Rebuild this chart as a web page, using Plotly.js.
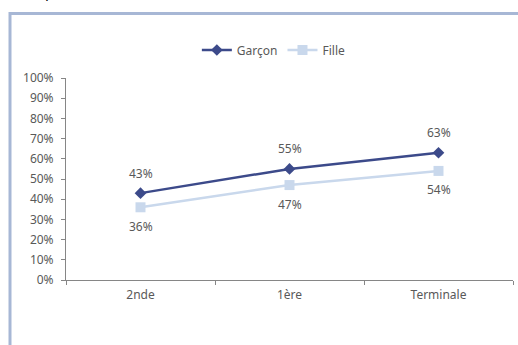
<!DOCTYPE html>
<html>
<head>
<meta charset="utf-8">
<script src="https://cdn.plot.ly/plotly-3.0.1.min.js"></script>
<style>html,body{margin:0;padding:0;background:#fff;}#chart{width:518px;height:345px;}</style>
</head>
<body>
<div id="chart"></div>
<script>
const categories = ["2nde", "1ère", "Terminale"];
const garconValues = [0.43, 0.55, 0.63];
const filleValues = [0.36, 0.47, 0.54];
const yTickValues = [0, 0.1, 0.2, 0.3, 0.4, 0.5, 0.6, 0.7, 0.8, 0.9, 1.0];
const yTickLabels = ["0%", "10%", "20%", "30%", "40%", "50%", "60%", "70%", "80%", "90%", "100%"];

const W = 518, H = 345;
const M = {l: 66, r: 5, t: 78, b: 65};
const pw = W - M.l - M.r, ph = H - M.t - M.b;
const px = x => (x - M.l) / pw;
const py = y => (H - M.b - y) / ph;

const fontFam = "'Noto Sans', 'Open Sans', sans-serif";
const txtCol = "#595959";
const cG = "#3C4A8A";
const cF = "#C9D8EC";
const fs = 12;

const traces = [
  {x: categories, y: garconValues, name: "Garçon", type: "scatter", mode: "lines+markers",
   line: {color: cG, width: 2.5}, marker: {symbol: "diamond", size: 9, color: cG}},
  {x: categories, y: filleValues, name: "Fille", type: "scatter", mode: "lines+markers",
   line: {color: cF, width: 2.5}, marker: {symbol: "square", size: 10, color: cF}}
];

const annotations = [];
categories.forEach((c, i) => {
  annotations.push({x: c, y: garconValues[i], text: Math.round(garconValues[i]*100) + "%",
    showarrow: false, yshift: 20, font: {family: fontFam, size: fs, color: txtCol}});
  annotations.push({x: c, y: filleValues[i], text: Math.round(filleValues[i]*100) + "%",
    showarrow: false, yshift: -19, font: {family: fontFam, size: fs, color: txtCol}});
});
annotations.push({xref: "paper", yref: "paper", x: px(43), y: py(3), xanchor: "left", yanchor: "bottom",
  text: "p", showarrow: false, font: {family: fontFam, size: 15, color: "#000"}});

const frameCol = "#A7B7D5";
const shapes = [
  {type: "line", xref: "paper", yref: "paper", x0: px(10), x1: px(520), y0: py(13.5), y1: py(13.5),
   line: {color: frameCol, width: 3}},
  {type: "line", xref: "paper", yref: "paper", x0: px(10), x1: px(10), y0: py(12), y1: py(350),
   line: {color: frameCol, width: 3}}
];

const layout = {
  width: W, height: H,
  margin: M,
  paper_bgcolor: "#fff", plot_bgcolor: "#fff",
  font: {family: fontFam, size: fs, color: txtCol},
  showlegend: true,
  legend: {orientation: "h", x: 0.465, xanchor: "center", y: py(50), yanchor: "middle",
    font: {family: fontFam, size: fs, color: txtCol}, itemwidth: 30, tracegroupgap: 0},
  xaxis: {type: "category", range: [-0.5, 2.5], showgrid: false, zeroline: false,
    showline: true, linecolor: "#868686", linewidth: 1,
    ticks: "outside", tickson: "boundaries", ticklen: 4, tickcolor: "#868686",
    ticklabelstandoff: 4,
    tickfont: {family: fontFam, size: fs, color: txtCol}, fixedrange: true},
  yaxis: {range: [0, 1], tickvals: yTickValues, ticktext: yTickLabels, showgrid: false, zeroline: false,
    showline: true, linecolor: "#868686", linewidth: 1,
    ticks: "outside", ticklen: 4, tickcolor: "#868686",
    ticklabelstandoff: 5,
    tickfont: {family: fontFam, size: fs, color: txtCol}, fixedrange: true},
  annotations: annotations,
  shapes: shapes
};

Plotly.newPlot("chart", traces, layout, {displayModeBar: false, staticPlot: true});
</script>
</body>
</html>
